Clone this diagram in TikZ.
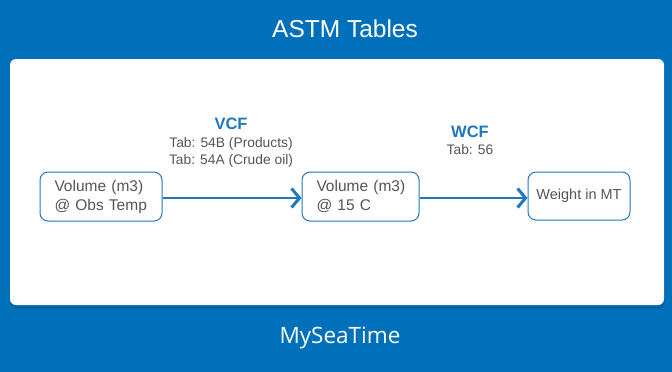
\documentclass[tikz,border=0pt]{standalone}
\usepackage{fontspec}
\setmainfont{Liberation Sans}
\newfontfamily\footfont{Open Sans}
\usetikzlibrary{arrows.meta}
\definecolor{bgblue}{HTML}{0070BB}
\definecolor{boxblue}{HTML}{1F78BE}
\definecolor{lblgray}{HTML}{555555}
\definecolor{shadowblue}{HTML}{005A96}
\begin{document}
\begin{tikzpicture}[x=1pt,y=-1pt,
  stagebox/.style={draw=boxblue, line width=1pt, rounded corners=8pt, fill=white, text=lblgray, font=\fontsize{15.5}{19}\selectfont},
  flow/.style={draw=boxblue, line width=2pt, -{Straight Barb[length=8pt,width=19pt,line width=3pt]}},
  head/.style={text=boxblue, font=\fontsize{16.5}{19}\selectfont\bfseries},
  tab/.style={text=lblgray, font=\fontsize{13.8}{17}\selectfont, align=center}]
\fill[bgblue] (0,0) rectangle (672,372);
\useasboundingbox (0,0) rectangle (672,372);
\fill[shadowblue, opacity=0.5, rounded corners=6pt] (11,62) rectangle (665,309);
\fill[white, rounded corners=6pt] (10,59) rectangle (664,305);
\node[text=white, font=\fontsize{24.5}{28}\selectfont] (title) at (345,29) {ASTM Tables};
\node[text=white, font=\footfont\fontsize{22.5}{26}\selectfont] (foot) at (340,338) {MySeaTime};
\node[stagebox, minimum width=122pt, minimum height=49pt, align=left, text width=93pt, inner xsep=14.5pt] (b1) at (101,196.5) {\mbox{Volume (m3)}\\\mbox{@ Obs Temp}};
\node[stagebox, minimum width=117pt, minimum height=49pt, align=left, text width=88pt, inner xsep=14.5pt] (b2) at (360.5,196.5) {\mbox{Volume (m3)}\\\mbox{@ 15 C}};
\node[stagebox, minimum width=102pt, minimum height=48pt, align=center, font=\fontsize{14.5}{18}\selectfont] (b3) at (579,196) {Weight in MT};
\draw[flow] (b1.east |- 0,198) -- (b2.west |- 0,198);
\draw[flow] (b2.east |- 0,198) -- (b3.west |- 0,198);
\node[head] (vcf) at (231,124) {VCF};
\node[tab] (vcft) at (231,152.5) {Tab: 54B (Products)\\Tab: 54A (Crude oil)};
\node[head] (wcf) at (470,132) {WCF};
\node[tab] (wcft) at (470,150) {Tab: 56};
\end{tikzpicture}
\end{document}
